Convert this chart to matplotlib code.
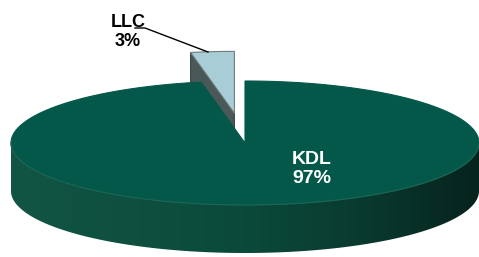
import matplotlib.pyplot as plt
import numpy as np
from matplotlib.patches import Polygon
from matplotlib.colors import LinearSegmentedColormap

# Data
labels = ["LLC", "KDL"]
values = [3, 97]
explode = [0.48, 0.0]

# Look of the 3D pie (pixel space)
cx, cy = 245, 143      # centre of top face
a, b = 234, 62         # ellipse semi axes
depth = 48             # wall height
start_angle = 90

top_colors = ["#a9cdd6", "#03584a"]
wall_colors = ["#4a5858", None]
label_colors = ["black", "white"]
wall_cmap = LinearSegmentedColormap.from_list(
    "wall", [(0, "#125544"), (0.5, "#0b4a3a"), (0.75, "#0a3a2f"), (1, "#06231d")])


def proj(t, r=1.0, off=(0.0, 0.0), dz=0.0):
    t = np.radians(t)
    return (cx + a * r * np.cos(t) + off[0], cy - b * r * np.sin(t) + off[1] + dz)


fig = plt.figure(figsize=(4.79, 2.57), dpi=100)
ax = fig.add_axes([0, 0, 1, 1])

total = sum(values)
angles = []
t0 = start_angle
for v in values:
    t1 = t0 + 360 * v / total
    angles.append((t0, t1))
    t0 = t1

# small exploded slice first (it sits behind), then the big one
for i in [0, 1]:
    t_a, t_b = angles[i]
    mid = np.radians((t_a + t_b) / 2)
    off = (a * explode[i] * np.cos(mid), -b * explode[i] * np.sin(mid))
    ts = np.linspace(t_a, t_b, max(int(t_b - t_a) * 2, 4))

    # front wall, shaded left to right with a gradient image
    lo, hi = max(t_a, 180), min(t_b, 360)
    if hi > lo:
        wt = np.linspace(lo, hi, 300)
        wall = [proj(t, off=off) for t in wt] + [proj(t, off=off, dz=depth) for t in wt[::-1]]
        wp = Polygon(wall, closed=True, fc="none", ec="none")
        ax.add_patch(wp)
        grad = np.linspace(0, 1, 400)[None, :]
        im = ax.imshow(grad, cmap=wall_cmap, aspect="auto",
                       extent=[cx - a + off[0], cx + a + off[0], cy + b + depth + 5, cy - 5],
                       interpolation="bilinear")
        im.set_clip_path(wp)

    # radial side face at the far edge when it faces the viewer
    if wall_colors[i] is not None:
        tip = proj(0, r=0, off=off)
        rim = proj(t_b, off=off)
        face = [tip, rim, (rim[0], rim[1] + depth), (tip[0], tip[1] + depth)]
        ax.add_patch(Polygon(face, closed=True, fc=wall_colors[i], ec="#3c4747", lw=0.8))

    # top face
    pts = [proj(0, r=0, off=off)] + [proj(t, off=off) for t in ts]
    ec = "#6d7b7b" if i == 0 else top_colors[i]
    ax.add_patch(Polygon(pts, closed=True, fc=top_colors[i], ec=ec, lw=0.8))

    if i == 1:
        front = [proj(t) for t in np.linspace(180, 360, 200)]
        xs, ys = zip(*front)
        ax.plot(xs, ys, color="#1f6553", lw=0.8)

ax.set_xlim(0, 479)
ax.set_ylim(257, 0)
ax.axis("off")

# labels
pct = [round(100 * v / total) for v in values]
ax.text(128, 32, f"{labels[0]}\n{pct[0]}%", ha="center", va="center",
        fontsize=13, fontweight="bold", family="Liberation Sans",
        color=label_colors[0], linespacing=1.15)
ax.plot([135, 145, 208], [28, 28, 52], color="black", lw=1)
ax.text(312, 169, f"{labels[1]}\n{pct[1]}%", ha="center", va="center",
        fontsize=14, fontweight="bold", family="Liberation Sans",
        color=label_colors[1], linespacing=1.1)

fig.savefig("out.png", dpi=100)
